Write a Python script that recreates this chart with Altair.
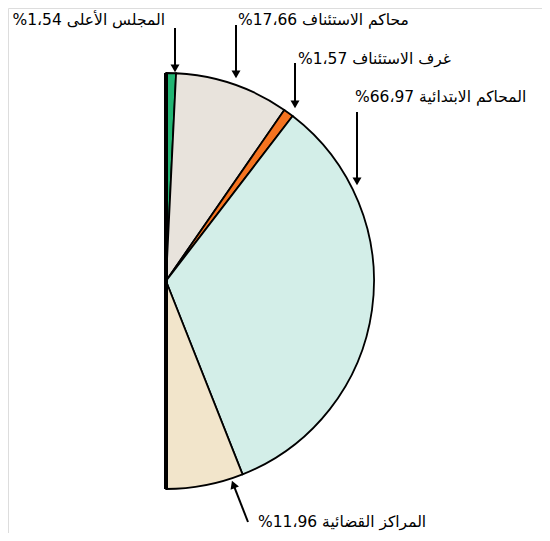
import math
import altair as alt
import pandas as pd

# ---- data ----
categories = ["المجلس الأعلى", "محاكم الاستئناف", "غرف الاستئناف", "المحاكم الابتدائية", "المراكز القضائية"]
values = [1.54, 17.66, 1.57, 66.97, 11.96]
value_labels = ["1،54", "17،66", "1،57", "66،97", "11،96"]

# ---- styles / layout ----
colors = ["#22b573", "#e8e3dc", "#f5731f", "#d3eee8", "#f2e5cb"]
W, H = 534, 525
CX, CY, R = 158, 273, 208

label_x = [157, 230, 290, 347, 250]
label_y = [12, 12, 51, 89, 514]
label_align = ["right", "left", "left", "left", "left"]
arrow_tail = [(167, 20), (228, 17), (287, 55), (349, 104), (240, 514)]
arrow_tip = [(167, 64), (228, 70), (287, 100), (349, 177), (224, 473)]

pie_df = pd.DataFrame({"cat": categories, "val": values, "order": list(range(len(values)))})

pie = alt.Chart(pie_df).mark_arc(
    outerRadius=R, stroke="black", strokeWidth=1.8, strokeJoin="round", x=CX, y=CY
).encode(
    theta=alt.Theta("val:Q", stack=True, scale=alt.Scale(range=[0, math.pi])),
    order=alt.Order("order:Q"),
    color=alt.Color("cat:N", scale=alt.Scale(domain=categories, range=colors), legend=None),
)

xs = alt.Scale(domain=[0, W], range=[0, W])
ys = alt.Scale(domain=[0, H], range=[0, H])

edge_df = pd.DataFrame({"x": [CX], "y": [CY - R], "x2": [CX], "y2": [CY + R]})
edge = alt.Chart(edge_df).mark_rule(color="black", strokeWidth=4).encode(
    x=alt.X("x:Q", scale=xs, axis=None), y=alt.Y("y:Q", scale=ys, axis=None),
    x2="x2:Q", y2="y2:Q",
)

rows = []
for i in range(len(categories)):
    (tx, ty), (px, py) = arrow_tail[i], arrow_tip[i]
    dx, dy = px - tx, py - ty
    L = math.hypot(dx, dy)
    ang = math.degrees(math.atan2(dx, -dy)) % 360
    rows.append({
        "tx": tx, "ty": ty,
        "lx": px - dx / L * 6, "ly": py - dy / L * 6,
        "hx": px - dx / L * 5, "hy": py - dy / L * 5,
        "ang": ang,
    })
arr_df = pd.DataFrame(rows)

shafts = alt.Chart(arr_df).mark_rule(color="black", strokeWidth=2).encode(
    x=alt.X("tx:Q", scale=xs, axis=None), y=alt.Y("ty:Q", scale=ys, axis=None),
    x2="lx:Q", y2="ly:Q",
)
heads = alt.Chart(arr_df).mark_point(shape="triangle", filled=True, size=80, color="black", opacity=1).encode(
    x=alt.X("hx:Q", scale=xs, axis=None), y=alt.Y("hy:Q", scale=ys, axis=None),
    angle=alt.Angle("ang:Q", scale=None),
)

lab_df = pd.DataFrame({
    "text": [f"{c} {v}%\u200F" for c, v in zip(categories, value_labels)],
    "x": label_x, "y": label_y, "align": label_align,
})
texts = []
for al in ["left", "right"]:
    texts.append(
        alt.Chart(lab_df[lab_df["align"] == al]).mark_text(
            align=al, baseline="middle", font="DejaVu Sans", fontSize=15.5, color="black"
        ).encode(
            x=alt.X("x:Q", scale=xs, axis=None), y=alt.Y("y:Q", scale=ys, axis=None),
            text="text:N",
        )
    )

chart = alt.layer(pie, edge, shafts, heads, *texts).properties(
    width=W, height=H, autosize="none", padding=0
).configure_view(stroke=None).configure(background="white")

chart.save("out.html", embed_options={"renderer": "svg", "actions": False})
